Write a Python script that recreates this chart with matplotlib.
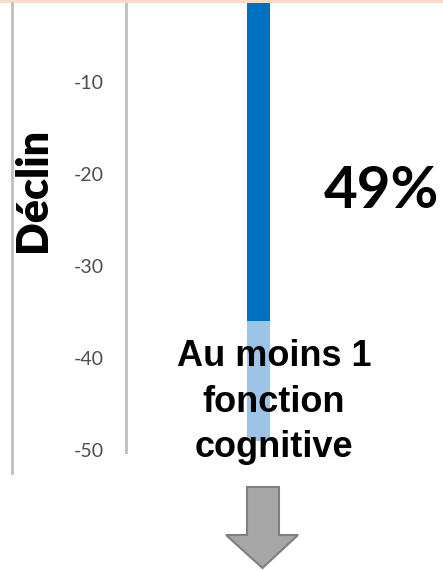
import matplotlib.pyplot as plt
from matplotlib.patches import Rectangle, Polygon
from matplotlib.lines import Line2D

# Données
categories = ['Déclin']
valeur_totale = [-49]      # au moins 1 fonction cognitive
valeur_foncee = [-36]
yticks = [-10, -20, -30, -40, -50]
texte_pourcent = '49%'
texte_bas = 'Au moins 1\nfonction\ncognitive'

W, H = 443, 570

def fx(px):
    return px / W

def fy(py):
    return 1 - py / H

fig = plt.figure(figsize=(W / 100, H / 100), dpi=100)
fig.patch.set_facecolor('white')

# axe : pixel y = -10 - 9.2*v
y_top, y_bot = 3, 452
v_top = -(y_top + 10) / 9.2
v_bot = -(y_bot + 10) / 9.2
ax = fig.add_axes([fx(126), fy(y_bot), 1 - fx(126), (y_bot - y_top) / H])
ax.set_ylim(v_bot, v_top)
px_unit = 23 / 0.5
x_left = -(258.5 - 126) / px_unit
ax.set_xlim(x_left, x_left + (W - 126) / px_unit)

ax.bar([0], valeur_totale, width=0.5, color='#9DC3E6', zorder=2)
ax.bar([0], valeur_foncee, width=0.5, color='#0070C0', zorder=3)

for s in ['top', 'right', 'bottom']:
    ax.spines[s].set_visible(False)
ax.spines['left'].set_color('#BFBFBF')
ax.spines['left'].set_linewidth(2)
ax.set_xticks([])
ax.set_yticks(yticks)
ax.set_yticklabels([str(t) for t in yticks])
ax.tick_params(axis='y', length=0, pad=16, labelsize=14, labelcolor='#4D4D4D')
for lab in ax.get_yticklabels():
    lab.set_family('Lato')

# cadre gauche et bande du haut
fig.add_artist(Line2D([fx(12), fx(12)], [fy(3), fy(473)], color='#BFBFBF', lw=2))
fig.add_artist(Rectangle((0, fy(3)), 1, 3 / H, transform=fig.transFigure,
                         color='#FCDCC8', lw=0))

fig.text(fx(33), fy(190), categories[0], rotation=90, ha='center', va='center',
         fontsize=31, fontweight='heavy', family='Lato', color='black')
fig.text(fx(381), fy(192), texte_pourcent, ha='center', va='center',
         fontsize=42, fontweight='bold', family='Lato', color='black')
fig.text(fx(274), fy(402), texte_bas, ha='center', va='center', ma='center',
         fontsize=26, fontweight='bold', family='Liberation Sans', color='black',
         linespacing=1.38)

# flèche grise
fleche = [(247, 487), (279, 487), (279, 535), (298, 535), (262.5, 568),
          (226, 535), (247, 535)]
fig.add_artist(Polygon([(fx(a), fy(b)) for a, b in fleche], closed=True,
                       transform=fig.transFigure, facecolor='#A6A6A6',
                       edgecolor='#7F7F7F', lw=1.5))

fig.savefig('out.png', dpi=100)
